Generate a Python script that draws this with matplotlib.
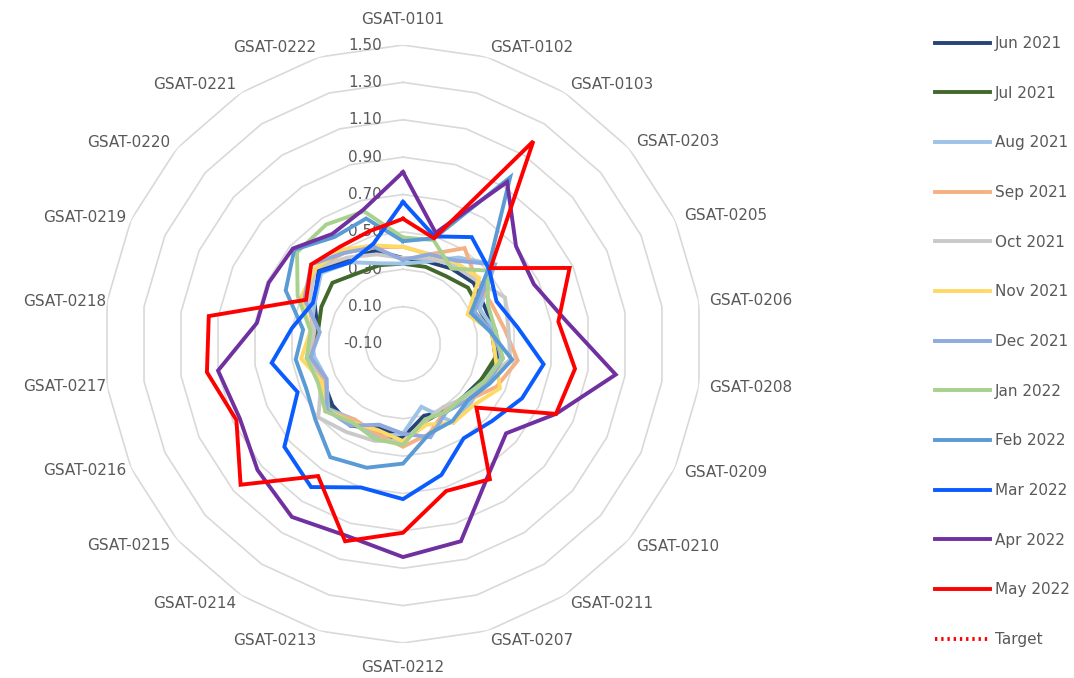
import numpy as np
import matplotlib
matplotlib.use("Agg")
import matplotlib.pyplot as plt
from matplotlib.lines import Line2D

plt.rcParams['font.family'] = ['DejaVu Sans']

categories = ["GSAT-0101", "GSAT-0102", "GSAT-0103", "GSAT-0203", "GSAT-0205",
              "GSAT-0206", "GSAT-0208", "GSAT-0209", "GSAT-0210", "GSAT-0211",
              "GSAT-0207", "GSAT-0212", "GSAT-0213", "GSAT-0214", "GSAT-0215",
              "GSAT-0216", "GSAT-0217", "GSAT-0218", "GSAT-0219", "GSAT-0220",
              "GSAT-0221", "GSAT-0222"]

months = ["Jun 2021", "Jul 2021", "Aug 2021", "Sep 2021", "Oct 2021", "Nov 2021",
          "Dec 2021", "Jan 2022", "Feb 2022", "Mar 2022", "Apr 2022", "May 2022"]

jun21 = [0.36, 0.36, 0.38, 0.40, 0.38, 0.40, 0.42, 0.36, 0.33, 0.33, 0.30, 0.40,
         0.37, 0.42, 0.40, 0.37, 0.40, 0.36, 0.42, 0.50, 0.44, 0.42]
jul21 = [0.33, 0.33, 0.33, 0.36, 0.35, 0.38, 0.40, 0.36, 0.35, 0.32, 0.33, 0.43,
         0.40, 0.40, 0.42, 0.38, 0.42, 0.36, 0.38, 0.40, 0.35, 0.34]
aug21 = [0.33, 0.36, 0.45, 0.55, 0.35, 0.40, 0.43, 0.38, 0.38, 0.40, 0.25, 0.38,
         0.42, 0.38, 0.43, 0.35, 0.38, 0.40, 0.42, 0.48, 0.42, 0.35]
sep21 = [0.42, 0.40, 0.51, 0.42, 0.42, 0.45, 0.52, 0.45, 0.36, 0.32, 0.40, 0.45,
         0.40, 0.38, 0.45, 0.36, 0.40, 0.38, 0.46, 0.52, 0.48, 0.44]
oct21 = [0.36, 0.38, 0.40, 0.42, 0.50, 0.47, 0.48, 0.38, 0.34, 0.30, 0.33, 0.42,
         0.44, 0.46, 0.50, 0.38, 0.42, 0.38, 0.45, 0.52, 0.45, 0.40]
nov21 = [0.42, 0.40, 0.42, 0.44, 0.28, 0.38, 0.40, 0.47, 0.40, 0.40, 0.35, 0.42,
         0.38, 0.40, 0.44, 0.38, 0.45, 0.40, 0.50, 0.52, 0.50, 0.45]
dec21 = [0.35, 0.40, 0.43, 0.55, 0.32, 0.38, 0.44, 0.40, 0.36, 0.33, 0.42, 0.38,
         0.35, 0.42, 0.44, 0.35, 0.40, 0.35, 0.48, 0.55, 0.48, 0.44]
jan22 = [0.47, 0.48, 0.38, 0.50, 0.40, 0.40, 0.44, 0.38, 0.33, 0.33, 0.32, 0.44,
         0.43, 0.40, 0.45, 0.40, 0.42, 0.40, 0.52, 0.65, 0.66, 0.64]
feb22 = [0.45, 0.49, 0.96, 0.50, 0.30, 0.37, 0.49, 0.41, 0.36, 0.39, 0.40, 0.54,
         0.59, 0.62, 0.52, 0.47, 0.48, 0.44, 0.59, 0.67, 0.58, 0.60]
mar22 = [0.66, 0.50, 0.58, 0.51, 0.45, 0.52, 0.66, 0.60, 0.53, 0.50, 0.63, 0.73,
         0.70, 0.81, 0.74, 0.52, 0.61, 0.50, 0.43, 0.49, 0.42, 0.46]
apr22 = [0.82, 0.52, 0.93, 0.70, 0.67, 0.78, 1.05, 0.80, 0.63, 0.74, 1.00, 1.04,
         0.97, 1.00, 0.93, 0.86, 0.90, 0.69, 0.69, 0.68, 0.60, 0.65]
may22 = [0.57, 0.49, 1.19, 0.52, 0.88, 0.74, 0.83, 0.80, 0.42, 0.76, 0.72, 0.91,
         1.00, 0.74, 1.05, 0.88, 0.96, 0.95, 0.47, 0.55, 0.52, 0.53]

series = [jun21, jul21, aug21, sep21, oct21, nov21, dec21, jan22, feb22, mar22, apr22, may22]
colors = ["#264478", "#43682B", "#9DC3E6", "#F4B183", "#C9C9C9", "#FFD966",
          "#8FAADC", "#A9D18E", "#5B9BD5", "#0A5CFF", "#7030A0", "#FF0000"]

ring_values = [0.10, 0.30, 0.50, 0.70, 0.90, 1.10, 1.30, 1.50]
tick_values = [-0.10] + ring_values

n = len(categories)
angles = np.linspace(0, 2 * np.pi, n, endpoint=False)
closed = np.append(angles, angles[0])

fig = plt.figure(figsize=(10.74, 6.78), dpi=100)
ax = fig.add_axes([104 / 1074, 35 / 678, 598 / 1074, 598 / 678], projection='polar')
ax.set_theta_zero_location('N')
ax.set_theta_direction(-1)
ax.set_ylim(-0.1, 1.5)
ax.grid(False)
ax.spines['polar'].set_visible(False)
ax.set_xticks([])
ax.set_yticks([])

text_col = "#595959"
fs = 11
px_per_unit = 299 / 1.6

# polygon gridlines
for r in ring_values:
    ax.plot(closed, [r] * (n + 1), color="#D9D9D9", lw=1.2, zorder=1)

for v in tick_values:
    ax.annotate(f"{v:.2f}", xy=(0, v), xytext=(-15, 0), textcoords='offset points',
                ha='right', va='center', fontsize=fs, color=text_col, zorder=2)

# category labels: anchored just outside the outer ring, text running outward
for a, lab in zip(angles, categories):
    s = np.sin(a)
    if abs(s) < 0.1:
        ha, r_px = 'center', 324
    elif s > 0:
        ha, r_px = 'left', 309
    else:
        ha, r_px = 'right', 309 - 10 * abs(s) ** 8
    ax.text(a, r_px / px_per_unit - 0.1, lab, ha=ha, va='center',
            fontsize=fs, color=text_col)

handles = []
for vals, col, lab in zip(series, colors, months):
    ax.plot(closed, vals + vals[:1], color=col, lw=2.8, zorder=3, solid_joinstyle='miter')
    handles.append(Line2D([], [], color=col, lw=2.8, label=lab))
handles.append(Line2D([], [], color="#FF0000", lw=2.8, ls=(0, (0.6, 1.0)), label="Target"))

fig.legend(handles=handles, loc='upper left', bbox_to_anchor=(935 / 1074, 1 - 36 / 678),
           frameon=False, fontsize=fs, labelcolor=text_col, handlelength=3.6,
           handletextpad=0.3, labelspacing=2.27, borderpad=0, borderaxespad=0)

fig.savefig("out.png", dpi=100, facecolor="white")
